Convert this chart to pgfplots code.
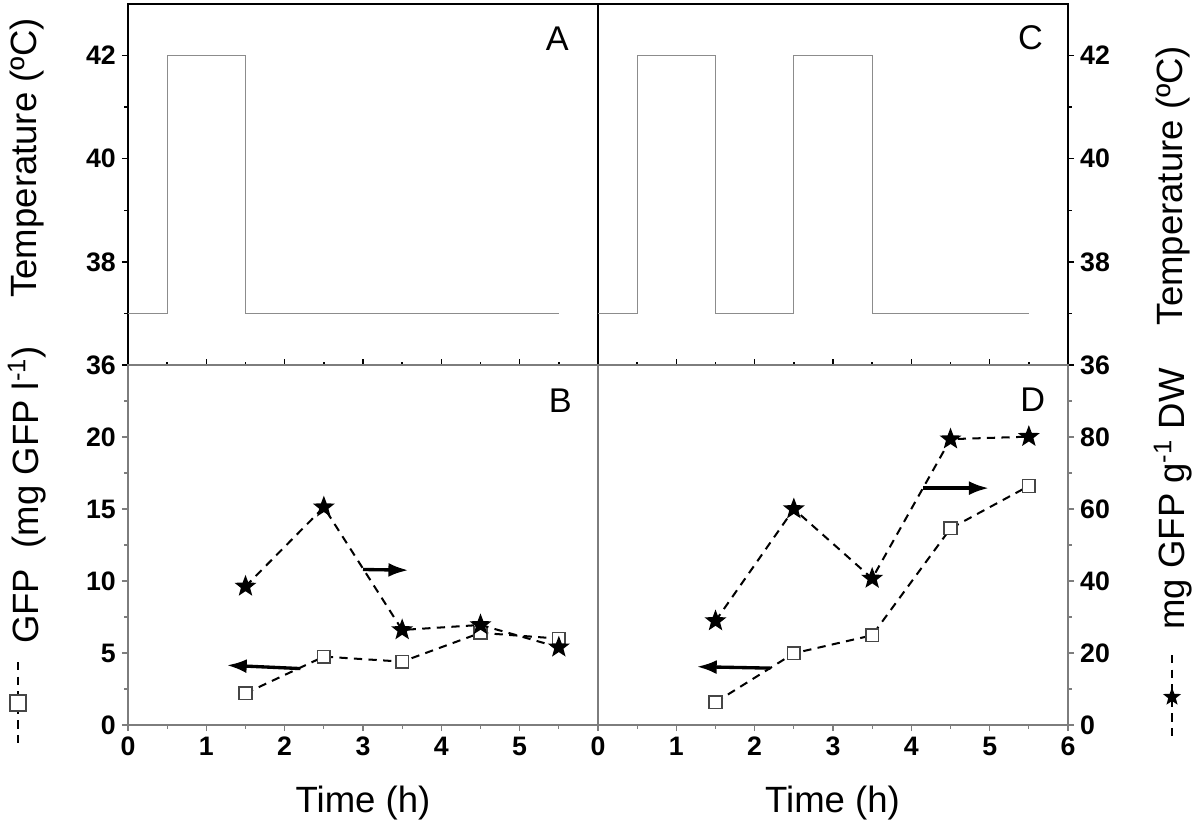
\documentclass[border=0pt]{standalone}
\usepackage{fontspec}
\setmainfont{Liberation Sans}
\usepackage{pgfplots}
\usepackage{pgfplotstable}
\pgfplotsset{compat=1.18}
\usetikzlibrary{arrows.meta}

\definecolor{axgray}{RGB}{125,125,125}
\definecolor{tempgray}{RGB}{140,140,140}
\definecolor{mkgray}{RGB}{70,70,70}

% filled five-point star
\pgfdeclareplotmark{fstar}{%
  \pgfpathmoveto{\pgfpointpolar{90}{\pgfplotmarksize}}%
  \pgfpathlineto{\pgfpointpolar{126}{0.42\pgfplotmarksize}}%
  \pgfpathlineto{\pgfpointpolar{162}{\pgfplotmarksize}}%
  \pgfpathlineto{\pgfpointpolar{198}{0.42\pgfplotmarksize}}%
  \pgfpathlineto{\pgfpointpolar{234}{\pgfplotmarksize}}%
  \pgfpathlineto{\pgfpointpolar{270}{0.42\pgfplotmarksize}}%
  \pgfpathlineto{\pgfpointpolar{306}{\pgfplotmarksize}}%
  \pgfpathlineto{\pgfpointpolar{342}{0.42\pgfplotmarksize}}%
  \pgfpathlineto{\pgfpointpolar{18}{\pgfplotmarksize}}%
  \pgfpathlineto{\pgfpointpolar{54}{0.42\pgfplotmarksize}}%
  \pgfpathclose
  \pgfusepathqfillstroke}

% time (h), GFP (mg/l), GFP (mg/g DW)
\pgfplotstableread{
t gfp dw
1.5 2.2 38.5
2.5 4.75 60.5
3.5 4.4 26.4
4.5 6.4 27.8
5.5 6.0 21.6
}\tabB
\pgfplotstableread{
t gfp dw
1.5 1.58 28.9
2.5 4.98 60.0
3.5 6.23 40.7
4.5 13.65 79.4
5.5 16.6 80.1
}\tabD

\pgfplotsset{
  panel/.style={scale only axis, width=9.4cm, xmin=0, xmax=6,
    tick align=outside, major tick length=0.12cm, minor tick length=0.07cm,
    xtick={0,...,6}, minor xtick={0.5,1.5,...,5.5},
    ticklabel style={font=\fontsize{15.2}{17}\selectfont\bfseries},
    /pgf/number format/assume math mode=true, clip=false},
  toppanel/.style={panel, height=7.22cm, ymin=36, ymax=43,
    ytick={36,38,40,42}, minor ytick={37,39,41},
    xtick align=inside, xtick pos=bottom, xticklabels={},
    axis line style={black, line width=0.9pt},
    tick style={black, line width=0.8pt}},
  botpanel/.style={panel, height=7.2cm, xtick pos=bottom,
    axis line style={axgray, line width=0.7pt},
    tick style={axgray, line width=0.7pt}},
  temp/.style={tempgray, line width=0.7pt, no markers},
  gfpline/.style={black, line width=1.15pt, dash pattern=on 4.7pt off 3.6pt,
    mark=square*, mark size=3.6pt,
    mark options={solid, fill=white, draw=mkgray, line width=0.8pt}},
  dwline/.style={black, line width=1.15pt, dash pattern=on 4.7pt off 3.6pt,
    mark=fstar, mark size=4.9pt, mark options={solid, fill=black}},
  arr/.style={black, line width=1.9pt, no markers,
    -{Latex[length=0.4cm,width=0.28cm]}},
}

\newcommand{\lbl}{\fontsize{20.8}{24}\selectfont}
\newcommand{\pnl}{\fontsize{19.5}{22}\selectfont}

\begin{document}
\begin{tikzpicture}
\path[use as bounding box] (-2.56,-1.94) rectangle (21.44,14.5);

% A
\begin{axis}[toppanel, at={(0,7.2cm)}, anchor=south west, ytick pos=left]
\addplot[temp] coordinates {(0,37) (0.5,37) (0.5,42) (1.5,42) (1.5,37) (5.5,37)};
\node[font=\pnl] at (axis cs:5.48,42.32) {A};
\end{axis}

% C
\begin{axis}[toppanel, at={(9.4cm,7.2cm)}, anchor=south west,
  ytick pos=right, yticklabel pos=right]
\addplot[temp] coordinates {(0,37) (0.5,37) (0.5,42) (1.5,42) (1.5,37)
  (2.5,37) (2.5,42) (3.5,42) (3.5,37) (5.5,37)};
\node[font=\pnl] at (axis cs:5.52,42.34) {C};
\end{axis}

% B
\begin{axis}[botpanel, at={(0,0)}, anchor=south west, ymin=0, ymax=25,
  xtick={0,...,5}, ytick={0,5,...,20}, minor ytick={2.5,7.5,...,22.5},
  ytick pos=left]
\addplot[gfpline] table[x=t, y=gfp] {\tabB};
\addplot[arr] coordinates {(2.2,3.92) (1.26,4.15)};
\addplot[arr] coordinates {(3.0,10.8) (3.58,10.75)};
\node[font=\pnl] at (axis cs:5.52,22.5) {B};
\end{axis}
\begin{axis}[botpanel, at={(0,0)}, anchor=south west, ymin=0, ymax=100, hide axis]
\addplot[dwline] table[x=t, y=dw] {\tabB};
\end{axis}

% D
\begin{axis}[botpanel, at={(9.4cm,0)}, anchor=south west, ymin=0, ymax=25,
  ytick=\empty]
\addplot[gfpline] table[x=t, y=gfp] {\tabD};
\addplot[arr] coordinates {(2.2,3.95) (1.26,4.05)};
\node[font=\pnl] at (axis cs:5.55,22.6) {D};
\end{axis}
\begin{axis}[botpanel, at={(9.4cm,0)}, anchor=south west, ymin=0, ymax=100,
  axis x line=none, axis y line*=right,
  ytick={0,20,...,80}, minor ytick={10,30,...,90}]
\addplot[dwline] table[x=t, y=dw] {\tabD};
\addplot[arr] coordinates {(4.15,65.8) (4.99,65.8)};
\end{axis}

% axis titles
\node[font=\lbl, anchor=base] at (4.7,-1.75) {Time (h)};
\node[font=\lbl, anchor=base] at (14.09,-1.75) {Time (h)};
\node[font=\lbl, rotate=90] at (-2.02,11.34) {Temperature (ºC)};
\node[font=\lbl, rotate=90] at (20.9,10.79) {Temperature (ºC)};
\node[font=\lbl, rotate=90] at (-2.02,4.6) {GFP\ \ (mg GFP l\textsuperscript{-1})};
\node[font=\lbl, rotate=90] at (20.9,4.52) {mg GFP g\textsuperscript{-1} DW};

% series keys beside the titles
\draw[black, line width=1.1pt, dash pattern=on 4.7pt off 3.6pt] (-2.2,1.26) -- (-2.2,-0.44);
\draw[mkgray, fill=white, line width=0.8pt] (-2.36,0.28) rectangle (-2.04,0.6);
\draw[black, line width=1.1pt, dash pattern=on 4.7pt off 3.6pt] (20.88,1.4) -- (20.88,-0.34);
\fill[black] (20.88,0.56) +(90:0.19) -- +(126:0.08) -- +(162:0.19) -- +(198:0.08)
  -- +(234:0.19) -- +(270:0.08) -- +(306:0.19) -- +(342:0.08) -- +(18:0.19)
  -- +(54:0.08) -- cycle;
\end{tikzpicture}
\end{document}
